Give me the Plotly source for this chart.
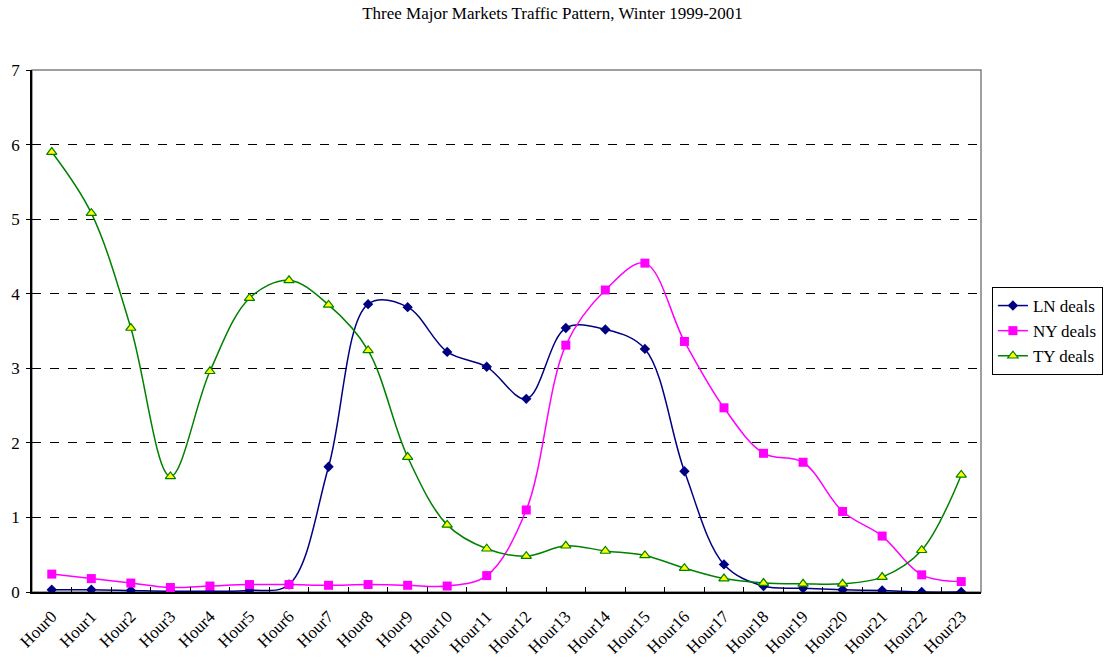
import plotly.graph_objects as go

hours = ["Hour%d" % i for i in range(24)]

ln_deals = [0.03, 0.03, 0.02, 0.01, 0.01, 0.02, 0.10, 1.68, 3.86, 3.82, 3.22, 3.02,
            2.59, 3.54, 3.52, 3.26, 1.62, 0.37, 0.08, 0.05, 0.03, 0.02, 0.00, 0.00]
ny_deals = [0.24, 0.18, 0.12, 0.06, 0.08, 0.10, 0.10, 0.09, 0.10, 0.09, 0.08, 0.22,
            1.10, 3.31, 4.05, 4.41, 3.36, 2.47, 1.86, 1.74, 1.08, 0.75, 0.23, 0.14]
ty_deals = [5.90, 5.08, 3.54, 1.55, 2.96, 3.94, 4.18, 3.85, 3.24, 1.81, 0.90, 0.58,
            0.48, 0.62, 0.55, 0.49, 0.32, 0.18, 0.12, 0.11, 0.11, 0.20, 0.56, 1.57]

serif = "Liberation Serif, Times New Roman, serif"

fig = go.Figure()

fig.add_trace(go.Scatter(
    x=hours, y=ln_deals, name="LN deals", mode="lines+markers",
    line=dict(color="#000080", width=1.5, shape="spline", smoothing=1),
    marker=dict(symbol="diamond", size=8, color="#000080"),
))
fig.add_trace(go.Scatter(
    x=hours, y=ny_deals, name="NY deals", mode="lines+markers",
    line=dict(color="#FF00FF", width=1.5, shape="spline", smoothing=1),
    marker=dict(symbol="square", size=9, color="#FF00FF"),
))
fig.add_trace(go.Scatter(
    x=hours, y=ty_deals, name="TY deals", mode="lines+markers",
    line=dict(color="#008000", width=1.5, shape="spline", smoothing=1),
    marker=dict(symbol="triangle-up", size=9, color="#FFFF00",
                line=dict(color="#008000", width=1.2)),
))

# grey frame on top / right like the original
fig.add_shape(type="rect", xref="paper", yref="paper", x0=0, x1=1, y0=0, y1=1,
              line=dict(color="#808080", width=1.5), layer="below")

fig.update_layout(
    title=dict(text="Three Major Markets Traffic Pattern, Winter 1999-2001",
               x=0.5, xanchor="center", y=0.99, yanchor="top",
               font=dict(family=serif, size=17, color="black")),
    font=dict(family=serif, size=15, color="black"),
    width=1105, height=662,
    paper_bgcolor="white", plot_bgcolor="white",
    margin=dict(l=32, r=124, t=70, b=70, autoexpand=False),
    showlegend=True,
    legend=dict(x=1.0115, y=0.5, xanchor="left", yanchor="middle",
                bordercolor="black", borderwidth=1, bgcolor="white",
                font=dict(family=serif, size=17), tracegroupgap=0,
                itemwidth=30),
    xaxis=dict(
        type="category", showgrid=False, showline=True, linecolor="black",
        linewidth=1.5, ticks="inside", tickson="boundaries", ticklen=5,
        tickcolor="black", tickangle=-45, tickfont=dict(family=serif, size=17),
        ticklabelstandoff=6,
        range=[-0.5, 23.5], zeroline=False, automargin=False,
    ),
    yaxis=dict(
        range=[0, 7], dtick=1, showgrid=True, gridcolor="black", griddash="dash",
        gridwidth=1, showline=True, linecolor="black", linewidth=1.5,
        ticks="outside", ticklen=4, tickcolor="black", ticklabelstandoff=3,
        tickfont=dict(family=serif, size=17), zeroline=False, automargin=False,
    ),
)

# page has a default body margin which pushes the figure off the window
fig.write_html("out.html", config={"displayModeBar": False},
               post_script="document.body.style.margin='0';")
